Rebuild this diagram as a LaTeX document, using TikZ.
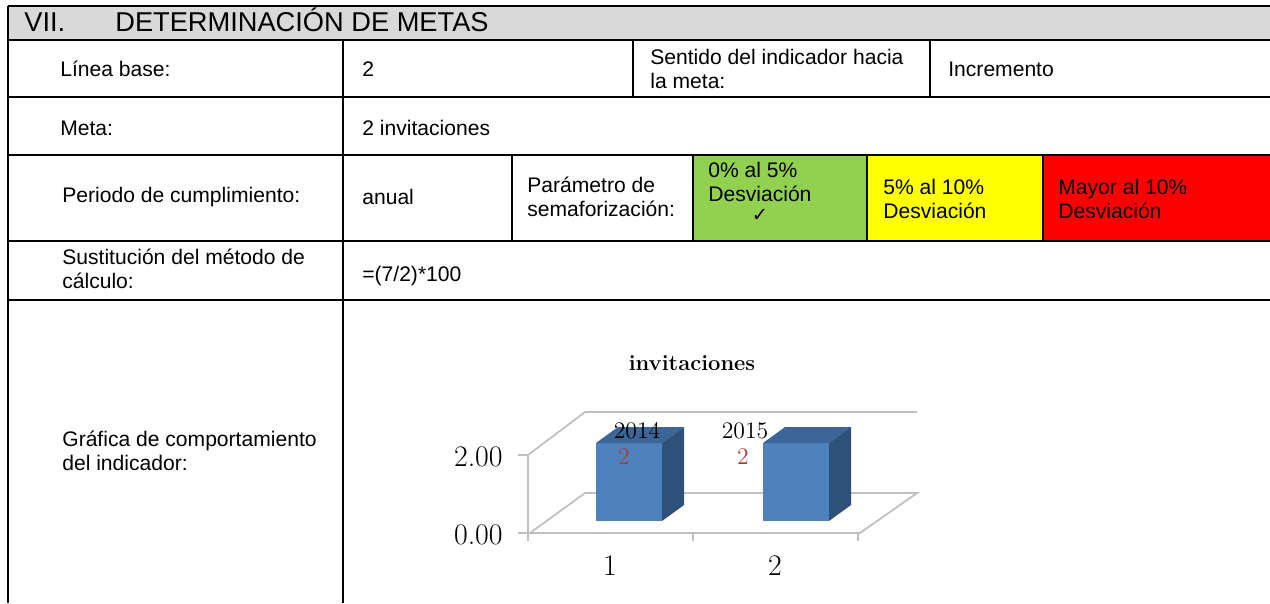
\documentclass[tikz,border=0pt]{standalone}
\usepackage{fontspec}
\usepackage{tikz}
\newfontfamily\tabfont{Liberation Sans}
\newfontfamily\symfont{DejaVu Sans}
\definecolor{headgray}{HTML}{D9D9D9}
\definecolor{okgreen}{HTML}{92D050}
\definecolor{warnyellow}{HTML}{FFFF00}
\definecolor{badred}{HTML}{FF0000}
\definecolor{barfront}{HTML}{4F81BD}
\definecolor{bartop}{HTML}{3C6598}
\definecolor{barside}{HTML}{30507C}
\definecolor{lblred}{HTML}{B03A35}

\begin{document}
\begin{tikzpicture}[x=0.02cm,y=-0.02cm,
    cell/.style={anchor=west,inner sep=0pt,align=left,font=\tabfont\fontsize{12}{13.5}\selectfont},
    headtxt/.style={anchor=base west,inner sep=0pt,font=\tabfont\fontsize{15.5}{17}\selectfont},
    rule/.style={line width=1.1pt},
    wall/.style={draw=black!25,line width=1pt},
    axlbl/.style={inner sep=0pt,font=\fontsize{17}{19}\selectfont},
    datalbl/.style={inner sep=0pt,font=\fontsize{13.5}{15}\selectfont}]
    \useasboundingbox (0,0) rectangle (1270,603);

    % Cell fills
    \fill[headgray] (8,6) rectangle (1270,40);
    \fill[okgreen] (693,155) rectangle (867,241);
    \fill[warnyellow] (867,155) rectangle (1043,241);
    \fill[badred] (1043,155) rectangle (1270,241);

    % Table rules
    \foreach \ry in {6,40,97,155,241,300}
        \draw[rule] (8,\ry) -- (1270,\ry);
    \draw[rule] (8,6) -- (8,603);
    \draw[rule] (343,40) -- (343,603);
    \foreach \cx in {633,930}
        \draw[rule] (\cx,40) -- (\cx,97);
    \foreach \cx in {512,693,867,1043}
        \draw[rule] (\cx,155) -- (\cx,241);

    % Header
    \node[headtxt] (num) at (24,31) {VII.};
    \node[headtxt] (title) at (115,31) {DETERMINACIÓN DE METAS};

    % Rows
    \node[cell] (base) at (60,69) {Línea base:};
    \node[cell] (baseval) at (362,69) {2};
    \node[cell] (sentido) at (650,69) {Sentido del indicador hacia\\la meta:};
    \node[cell] (sentidoval) at (948,69) {Incremento};
    \node[cell] (meta) at (60,128) {Meta:};
    \node[cell] (metaval) at (362,128) {2 invitaciones};
    \node[cell] (periodo) at (62,197) {Periodo de cumplimiento:};
    \node[cell] (periodoval) at (362,197) {anual};
    \node[cell] (param) at (527,197) {Parámetro de\\semaforización:};
    \node[cell] (verde) at (708,182) {0\% al 5\%\\Desviación};
    \node[inner sep=0pt,font=\symfont\fontsize{11}{12}\selectfont] (check) at (760,215) {✓};
    \node[cell] (amarillo) at (883,199) {5\% al 10\%\\Desviación};
    \node[cell] (rojo) at (1058,199) {Mayor al 10\%\\Desviación};
    \node[cell] (sust) at (62,269) {Sustitución del método de\\cálculo:};
    \node[cell] (sustval) at (362,276) {=(7/2)*100};
    \node[cell] (grafica) at (62,451) {Gráfica de comportamiento\\del indicador:};

    % Chart walls and floor
    \draw[wall] (528,533) -- (528,455) -- (585,412) -- (917,412);
    \draw[wall] (530,533) -- (860,533) -- (917,493) -- (585,493) -- cycle;
    \foreach \ty in {455,533}
        \draw[wall] (518,\ty) -- (528,\ty);
    \foreach \tx in {528,693,858}
        \draw[wall] (\tx,533) -- (\tx,541);

    % Bars
    \foreach \bx in {596,763} {
        \fill[barfront] (\bx,443) rectangle (\bx+66,521);
        \fill[bartop] (\bx,443) -- (\bx+22,427) -- (\bx+88,427) -- (\bx+66,443) -- cycle;
        \fill[barside] (\bx+66,443) -- (\bx+88,427) -- (\bx+88,505) -- (\bx+66,521) -- cycle;
    }

    % Chart labels
    \node[inner sep=0pt,font=\bfseries\fontsize{12.5}{14}\selectfont] (ctitle) at (692,363) {invitaciones};
    \node[axlbl,anchor=east] (ytwo) at (503,457) {2.00};
    \node[axlbl,anchor=east] (yzero) at (503,535) {0.00};
    \node[axlbl] (xone) at (610,566) {1};
    \node[axlbl] (xtwo) at (775,566) {2};
    \node[datalbl] (yr1) at (637,431) {2014};
    \node[datalbl,text=lblred] (val1) at (624,457) {2};
    \node[datalbl] (yr2) at (745,431) {2015};
    \node[datalbl,text=lblred] (val2) at (743,457) {2};
\end{tikzpicture}
\end{document}
